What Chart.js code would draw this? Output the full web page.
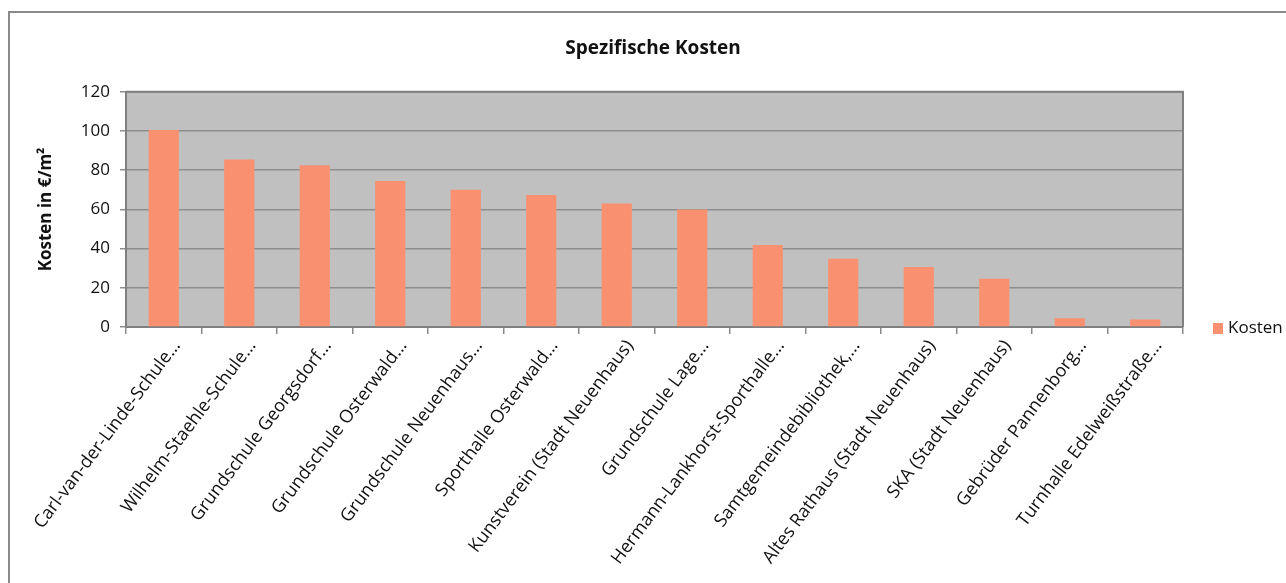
<!DOCTYPE html>
<html>
<head>
<meta charset="utf-8">
<script src="https://cdn.jsdelivr.net/npm/chart.js@4"></script>
<style>
  html, body { margin: 0; padding: 0; background: #fff; }
  #wrap { position: relative; width: 1286px; height: 583px; }
</style>
</head>
<body>
<div id="wrap"><canvas id="kostenChart"></canvas></div>
<script>
// Spezifische Kosten je Gebäude

const categories = [
  'Carl-van-der-Linde-Schule…',
  'Wilhelm-Staehle-Schule…',
  'Grundschule Georgsdorf…',
  'Grundschule Osterwald…',
  'Grundschule Neuenhaus…',
  'Sporthalle Osterwald…',
  'Kunstverein (Stadt Neuenhaus)',
  'Grundschule Lage…',
  'Hermann-Lankhorst-Sporthalle…',
  'Samtgemeindebibliothek,…',
  'Altes Rathaus (Stadt Neuenhaus)',
  'SKA (Stadt Neuenhaus)',
  'Gebrüder Pannenborg…',
  'Turnhalle Edelweißstraße…'
];
const kosten = [100.5, 85.5, 82.5, 74.5, 70, 67.3, 63, 60, 41.8, 34.8, 30.6, 24.6, 4.5, 3.8];
const yTicks = [0, 20, 40, 60, 80, 100, 120];

const FONT = '"Open Sans", "Liberation Sans", sans-serif';

// grey plot area, frame, outer border and a small legend like the Excel original
const plotArea = {
  id: 'plotArea',
  beforeDraw(chart) {
    const { ctx, chartArea: a } = chart;
    ctx.save();
    ctx.fillStyle = '#c0c0c0';
    ctx.fillRect(a.left, a.top, a.right - a.left, a.bottom - a.top);
    ctx.strokeStyle = '#8a8a8a';
    ctx.lineWidth = 2;
    ctx.beginPath();
    ctx.moveTo(9, chart.height);
    ctx.lineTo(9, 12);
    ctx.lineTo(chart.width, 12);
    ctx.stroke();
    ctx.restore();
  },
  afterDatasetsDraw(chart) {
    const { ctx, chartArea: a } = chart;
    ctx.save();
    ctx.strokeStyle = '#808080';
    ctx.lineWidth = 2;
    ctx.beginPath();
    ctx.moveTo(a.left, a.top);
    ctx.lineTo(a.right, a.top);
    ctx.lineTo(a.right, a.bottom);
    ctx.stroke();

    // legend
    const ds = chart.data.datasets[0];
    const lx = a.right + 30, ly = a.bottom + 1;
    ctx.fillStyle = ds.backgroundColor;
    ctx.fillRect(lx, ly - 5, 10, 11);
    ctx.fillStyle = '#111';
    ctx.font = '17px ' + FONT;
    ctx.textBaseline = 'middle';
    ctx.fillText(ds.label, lx + 15, ly);
    ctx.restore();
  }
};

new Chart(document.getElementById('kostenChart'), {
  type: 'bar',
  data: {
    labels: categories,
    datasets: [{
      label: 'Kosten',
      data: kosten,
      backgroundColor: '#f9906f',
      borderWidth: 0,
      categoryPercentage: 1,
      barPercentage: 0.4
    }]
  },
  options: {
    responsive: true,
    maintainAspectRatio: false,
    animation: false,
    layout: { padding: { left: 32, right: 12, top: 0, bottom: 0 } },
    plugins: {
      title: {
        display: true,
        text: 'Spezifische Kosten',
        color: '#111',
        font: { family: FONT, size: 19, weight: 'bold' },
        padding: { top: 37, bottom: 32 }
      },
      legend: { display: false },
      tooltip: { enabled: false }
    },
    scales: {
      x: {
        grid: { offset: true, drawOnChartArea: false, drawTicks: true, tickLength: 7, color: '#8a8a8a', lineWidth: 1.5 },
        border: { color: '#808080', width: 2 },
        ticks: {
          color: '#111',
          font: { family: FONT, size: 18 },
          minRotation: 53,
          maxRotation: 53,
          autoSkip: false,
          padding: 2,
          labelOffset: 13
        },
        afterFit(scale) { scale.height = 256; }
      },
      y: {
        min: 0,
        max: 120,
        afterBuildTicks(scale) { scale.ticks = yTicks.map(v => ({ value: v })); },
        grid: { color: '#8e8e8e', lineWidth: 1.5, tickLength: 6 },
        border: { color: '#808080', width: 2 },
        ticks: { color: '#111', font: { family: FONT, size: 17 }, padding: 10 },
        title: {
          display: true,
          text: 'Kosten in €/m²',
          color: '#111',
          font: { family: FONT, size: 17, weight: 'bold' },
          padding: { bottom: 14 }
        },
        afterFit(scale) { scale.width = 94; }
      },
      // empty right-hand axis, only reserves room for the legend
      legendSpace: {
        type: 'linear',
        position: 'right',
        grid: { display: false, drawTicks: false },
        border: { display: false },
        ticks: { display: false },
        afterFit(scale) { scale.width = 91; }
      }
    }
  },
  plugins: [plotArea]
});
</script>
</body>
</html>
